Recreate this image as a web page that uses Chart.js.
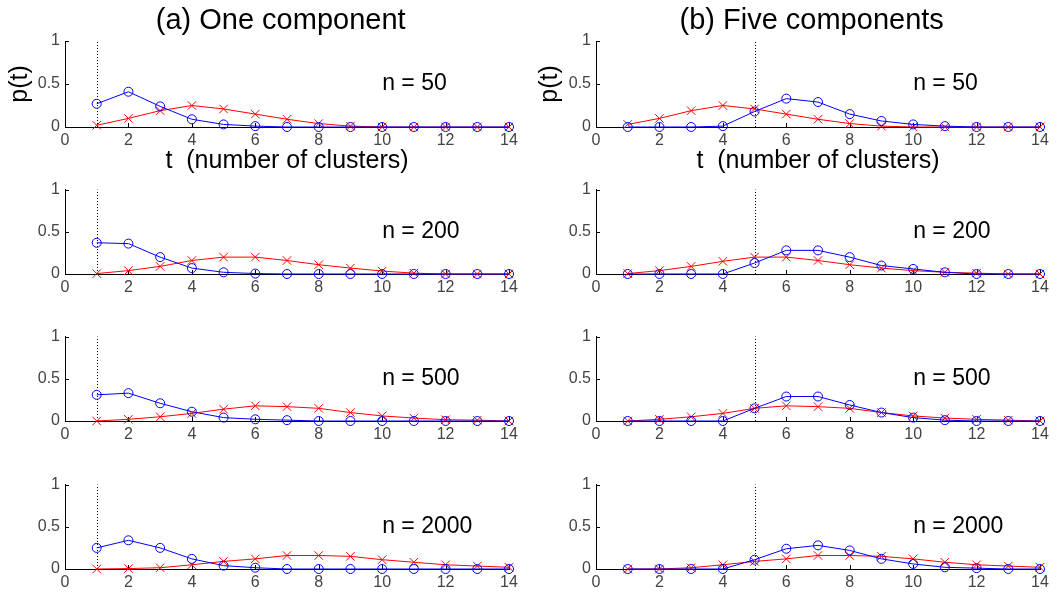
<!DOCTYPE html>
<html>
<head>
<meta charset="utf-8">
<script src="https://cdn.jsdelivr.net/npm/chart.js@4"></script>
<style>
  html, body { margin: 0; padding: 0; background: #fff; overflow: hidden; }
  body { width: 1058px; height: 597px; position: relative; }
  canvas { position: absolute; }
</style>
</head>
<body>
<script>
// number of clusters t
const tValues = [1, 2, 3, 4, 5, 6, 7, 8, 9, 10, 11, 12, 13, 14];

// (a) one component
const a50Blue   = [0.27, 0.41, 0.24, 0.09, 0.03, 0.01, 0, 0, 0, 0, 0, 0, 0, 0];
const a50Red    = [0.02, 0.10, 0.19, 0.25, 0.21, 0.15, 0.09, 0.04, 0.01, 0, 0, 0, 0, 0];
const a200Blue  = [0.37, 0.36, 0.20, 0.07, 0.02, 0.005, 0, 0, 0, 0, 0, 0, 0, 0];
const a200Red   = [0.005, 0.04, 0.09, 0.16, 0.20, 0.20, 0.16, 0.11, 0.07, 0.035, 0.01, 0, 0, 0];
const a500Blue  = [0.31, 0.33, 0.21, 0.11, 0.04, 0.02, 0.01, 0, 0, 0, 0, 0, 0, 0];
const a500Red   = [0, 0.02, 0.05, 0.09, 0.14, 0.18, 0.17, 0.15, 0.10, 0.06, 0.035, 0.015, 0.01, 0];
const a2000Blue = [0.25, 0.34, 0.25, 0.12, 0.04, 0.015, 0, 0, 0, 0, 0, 0, 0, 0];
const a2000Red  = [0, 0.005, 0.015, 0.05, 0.09, 0.12, 0.16, 0.16, 0.15, 0.11, 0.08, 0.05, 0.035, 0.02];

// (b) five components
const b50Blue   = [0, 0, 0, 0.01, 0.18, 0.33, 0.29, 0.15, 0.07, 0.03, 0.01, 0, 0, 0];
const b50Red    = [0.03, 0.10, 0.19, 0.25, 0.21, 0.15, 0.09, 0.04, 0.01, 0, 0, 0, 0, 0];
const b200Blue  = [0, 0, 0, 0, 0.13, 0.28, 0.28, 0.20, 0.10, 0.06, 0.02, 0, 0, 0];
const b200Red   = [0.005, 0.04, 0.09, 0.15, 0.20, 0.20, 0.16, 0.11, 0.07, 0.04, 0.02, 0.01, 0, 0];
const b500Blue  = [0, 0, 0, 0, 0.15, 0.29, 0.29, 0.19, 0.10, 0.04, 0.01, 0, 0, 0];
const b500Red   = [0, 0.02, 0.05, 0.09, 0.15, 0.18, 0.17, 0.15, 0.10, 0.06, 0.035, 0.02, 0.01, 0];
const b2000Blue = [0, 0, 0, 0, 0.11, 0.24, 0.28, 0.22, 0.12, 0.06, 0.02, 0.01, 0, 0];
const b2000Red  = [0, 0, 0.015, 0.05, 0.09, 0.12, 0.16, 0.16, 0.15, 0.12, 0.08, 0.05, 0.035, 0.02];

const sampleLabels = ['n = 50', 'n = 200', 'n = 500', 'n = 2000'];
const panelTitles = ['(a) One component', '(b) Five components'];
const trueComponents = [1, 5];
const xTitle = 't  (number of clusters)';
const yTitle = 'p(t)';

const blueSeries = [[a50Blue, a200Blue, a500Blue, a2000Blue], [b50Blue, b200Blue, b500Blue, b2000Blue]];
const redSeries = [[a50Red, a200Red, a500Red, a2000Red], [b50Red, b200Red, b500Red, b2000Red]];

const FONT = 'Liberation Sans, Arial, sans-serif';

// dotted true-k line, inward MATLAB-style ticks, "n = ..." label, panel title
const decor = {
  id: 'decor',
  beforeDatasetsDraw(chart, args, opts) {
    const { ctx, chartArea, scales: { x, y } } = chart;
    ctx.save();
    ctx.strokeStyle = '#000';
    ctx.lineWidth = 1;
    const vx = Math.round(x.getPixelForValue(opts.trueK)) + 0.5;
    ctx.setLineDash([1, 2]);
    ctx.beginPath();
    ctx.moveTo(vx, y.getPixelForValue(0));
    ctx.lineTo(vx, y.getPixelForValue(1));
    ctx.stroke();
    ctx.setLineDash([]);
    ctx.beginPath();
    x.ticks.forEach(t => {
      const px = Math.round(x.getPixelForValue(t.value)) + 0.5;
      ctx.moveTo(px, chartArea.bottom);
      ctx.lineTo(px, chartArea.bottom - 4);
    });
    y.ticks.forEach(t => {
      const py = Math.round(y.getPixelForValue(t.value)) + 0.5;
      ctx.moveTo(chartArea.left, py);
      ctx.lineTo(chartArea.left + 4, py);
    });
    ctx.stroke();
    ctx.restore();
  },
  afterDatasetsDraw(chart, args, opts) {
    const { ctx, scales: { x, y } } = chart;
    ctx.save();
    ctx.fillStyle = '#000';
    ctx.font = '23px ' + FONT;
    ctx.textAlign = 'left';
    ctx.textBaseline = 'middle';
    ctx.fillText(opts.label, x.getPixelForValue(10), y.getPixelForValue(0.5));
    if (opts.title) {
      ctx.font = '29px ' + FONT;
      ctx.textAlign = 'center';
      ctx.fillText(opts.title, x.getPixelForValue(6.8), 21);
    }
    ctx.restore();
  }
};

const areaTops = [41, 189, 336, 484];

function makePanel(col, row) {
  const canvas = document.createElement('canvas');
  const left = col === 0 ? 0 : 530;
  const width = col === 0 ? 530 : 528;
  const top = row === 0 ? 0 : areaTops[row] - 14;
  const height = row === 0 ? 180 : 124;
  const yAxisW = col === 0 ? 65 : 66;
  const xAxisH = row === 0 ? 53 : 25;
  canvas.width = width;
  canvas.height = height;
  canvas.style.left = left + 'px';
  canvas.style.top = top + 'px';
  canvas.style.width = width + 'px';
  canvas.style.height = height + 'px';
  document.body.appendChild(canvas);

  const blue = blueSeries[col][row];
  const red = redSeries[col][row];
  const first = row === 0;

  new Chart(canvas.getContext('2d'), {
    type: 'line',
    data: {
      datasets: [{
        data: tValues.map((t, i) => ({ x: t, y: blue[i] })),
        borderColor: '#0000ff',
        borderWidth: 1,
        pointStyle: 'circle',
        pointRadius: 4.5,
        pointBorderWidth: 1,
        pointBorderColor: '#0000ff',
        pointBackgroundColor: 'rgba(0,0,0,0)',
        tension: 0,
        clip: false
      }, {
        data: tValues.map((t, i) => ({ x: t, y: red[i] })),
        borderColor: '#ff0000',
        borderWidth: 1,
        pointStyle: 'crossRot',
        pointRadius: 6,
        pointBorderWidth: 1,
        pointBorderColor: '#ff0000',
        tension: 0,
        clip: false
      }]
    },
    options: {
      responsive: false,
      animation: false,
      events: [],
      layout: { padding: { top: first ? 41 : 14, right: width - yAxisW - 444, left: 0, bottom: 0 } },
      plugins: {
        legend: { display: false },
        tooltip: { enabled: false },
        title: { display: false },
        decor: { trueK: trueComponents[col], label: sampleLabels[row], title: first ? panelTitles[col] : null }
      },
      scales: {
        x: {
          type: 'linear',
          min: 0,
          max: 14,
          ticks: { stepSize: 2, autoSkip: false, maxRotation: 0, padding: 4, color: '#444', font: { family: FONT, size: 16 } },
          grid: { display: false, drawTicks: false },
          border: { display: true, color: '#000', width: 1 },
          title: {
            display: first,
            text: xTitle,
            color: '#000',
            font: { family: FONT, size: 25 },
            padding: { top: 0, bottom: 4 }
          },
          afterFit: s => { s.height = xAxisH; }
        },
        y: {
          type: 'linear',
          min: 0,
          max: 1,
          ticks: {
            stepSize: 0.5, padding: 5, color: '#444', font: { family: FONT, size: 16 },
            callback: v => String(v)
          },
          grid: { display: false, drawTicks: false },
          border: { display: true, color: '#000', width: 1 },
          title: {
            display: first,
            text: yTitle,
            color: '#000',
            font: { family: FONT, size: 25 },
            padding: { top: 5, bottom: 0 }
          },
          afterFit: s => { s.width = yAxisW; }
        }
      }
    },
    plugins: [decor]
  });
}

for (let row = 0; row < 4; row++) {
  makePanel(0, row);
  makePanel(1, row);
}
</script>
</body>
</html>
